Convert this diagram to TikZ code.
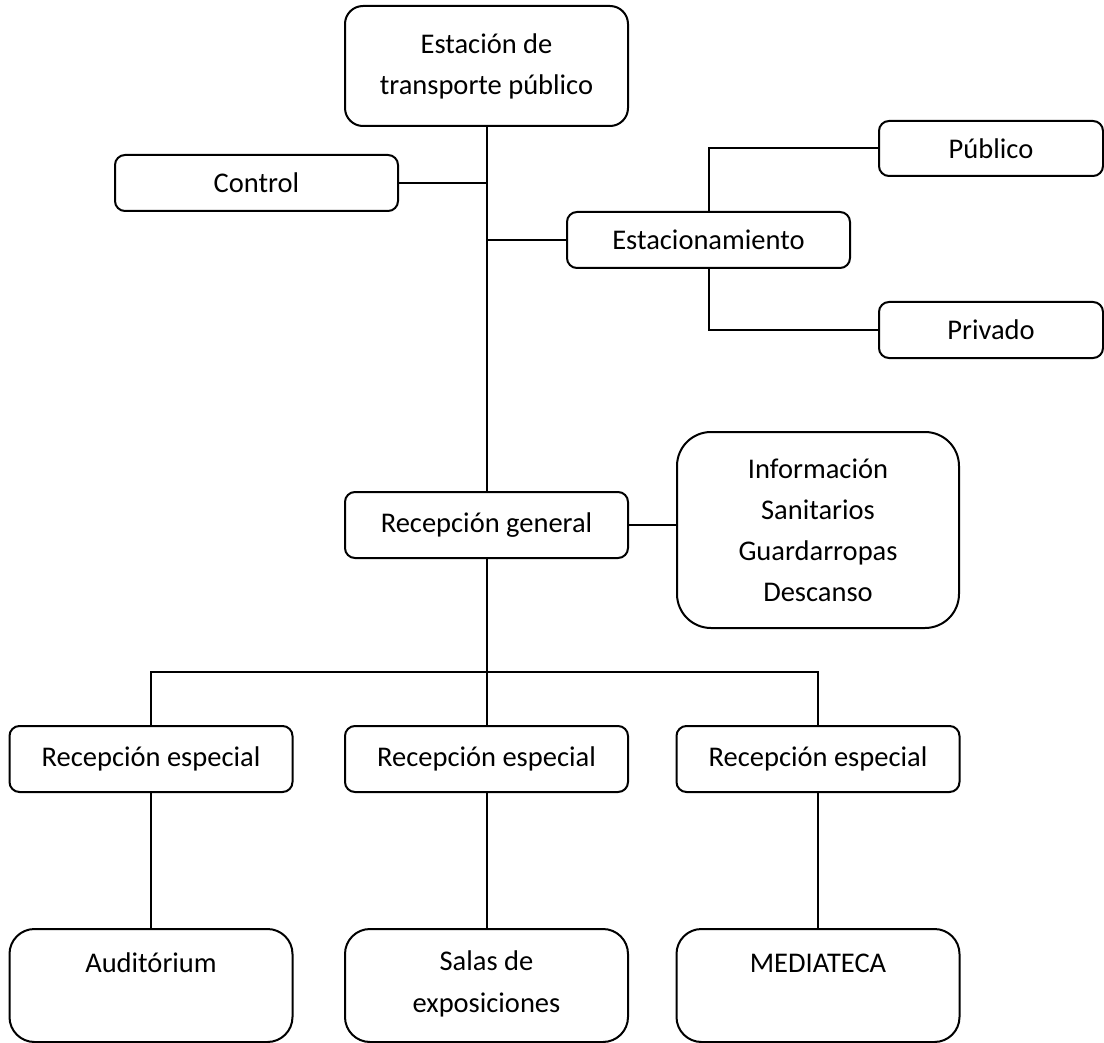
\documentclass[tikz,border=0pt]{standalone}
\usepackage{fontspec}
\setmainfont{Carlito}
\begin{document}
\begin{tikzpicture}[x=1pt,y=-1pt,
  box/.style={draw=black,line width=2pt,rounded corners=10pt,minimum width=283pt,minimum height=56pt,inner sep=0pt,align=center,font=\fontsize{28.5}{41}\selectfont},
  txt/.style={inner sep=0pt,align=center,font=\fontsize{28.5}{42}\selectfont},
  conn/.style={line width=2pt}]
\useasboundingbox (0,0) rectangle (1104,1043);
\node[box,rounded corners=18pt,minimum height=120pt] (est) at (486.5,66) {Estación de\\transporte público};
\node[box] (ctrl) at (256.5,183) {Control};
\node[box] (estac) at (708.5,240) {Estacionamiento};
\node[box,minimum width=224pt,minimum height=55pt] (pub) at (991,148.5) {Público};
\node[box,minimum width=224pt] (priv) at (991,330) {Privado};
\node[box,minimum height=66pt] (rg) at (486.5,525) {Recepción general};
\node[box,rounded corners=34pt,minimum width=282pt,minimum height=196pt] (info) at (818,530) {Información\\Sanitarios\\Guardarropas\\Descanso};
\node[box,minimum height=66pt] (re1) at (151,759) {Recepción especial};
\node[box,minimum height=66pt] (re2) at (486.5,759) {Recepción especial};
\node[box,minimum height=66pt] (re3) at (818,759) {Recepción especial};
\node[box,rounded corners=25pt,minimum height=113pt] (aud) at (151,985.5) {};
\node[box,rounded corners=25pt,minimum height=113pt] (sal) at (486.5,985.5) {};
\node[box,rounded corners=25pt,minimum height=113pt] (med) at (818,985.5) {};
\node[txt] (audt) at (151,963) {Auditórium};
\node[txt] (salt) at (486.5,984) {Salas de\\exposiciones};
\node[txt] (medt) at (818,963) {MEDIATECA};
\coordinate (bus) at (486.5,672);
\draw[conn] (est.south) -- (rg.north);
\draw[conn] (ctrl.east) -- (ctrl.east -| est.south);
\draw[conn] (estac.west) -- (estac.west -| est.south);
\draw[conn] (pub.west) -| (estac.north);
\draw[conn] (priv.west) -| (estac.south);
\draw[conn] (rg.east) -- (rg.east -| info.west);
\draw[conn] (rg.south) -- (re2.north);
\draw[conn] (re1.north) |- (bus) -| (re3.north);
\draw[conn] (re1.south) -- (aud.north);
\draw[conn] (re2.south) -- (sal.north);
\draw[conn] (re3.south) -- (med.north);
\end{tikzpicture}
\end{document}
